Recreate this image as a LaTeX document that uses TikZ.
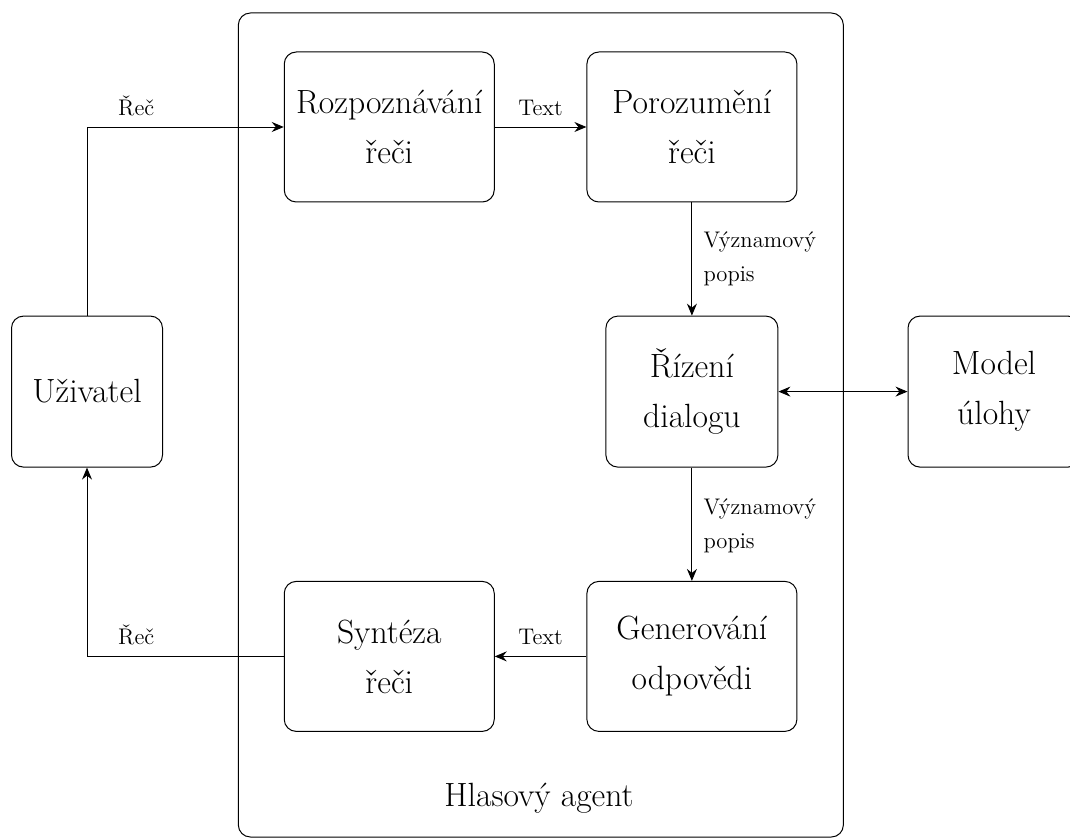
\documentclass[tikz,border=0pt]{standalone}
\usepackage{fontspec}
\usetikzlibrary{arrows.meta}

\begin{document}
\begin{tikzpicture}[x=0.5pt, y=-0.5pt,
  blok/.style={draw, rounded corners=6pt, align=center, inner sep=0pt,
    line width=0.5pt, font=\fontsize{16.8}{25}\selectfont},
  wideblok/.style={blok, minimum width=105pt, minimum height=75pt},
  narrowblok/.style={blok, minimum width=86pt, minimum height=75.5pt},
  userblok/.style={blok, minimum width=75.5pt, minimum height=75.5pt},
  arr/.style={-{Stealth[length=6pt, width=5pt, inset=2pt]}, line width=0.45pt},
  biarr/.style={{Stealth[length=6pt, width=5pt, inset=2pt]}-{Stealth[length=6pt, width=5pt, inset=2pt]}, line width=0.45pt},
  lab/.style={font=\fontsize{11.3}{17}\selectfont, inner sep=0pt},
  hlab/.style={lab, anchor=base, yshift=5.8pt},
  vlab/.style={lab, anchor=west, align=left, xshift=5.6pt},
]
\useasboundingbox (0,0) rectangle (1070,839);

% outer frame of the voice agent
\node[draw, rounded corners=6pt, line width=0.5pt, inner sep=0pt,
      minimum width=302.5pt, minimum height=412pt] (agent) at (540.85,425) {};
\node[anchor=base, inner sep=0pt, font=\fontsize{16.8}{25}\selectfont]
      (agentname) at (539,806.7) {Hlasový agent};

% components
\node[wideblok]   (rozp)   at (389.25,127)   {Rozpoznávání\\řeči};
\node[wideblok]   (poroz)  at (691.9,127)    {Porozumění\\řeči};
\node[narrowblok] (rizeni) at (691.9,391.6)  {Řízení\\dialogu};
\node[wideblok]   (gen)    at (691.9,656.4)  {Generování\\odpovědi};
\node[wideblok]   (synt)   at (389.25,656.4) {Syntéza\\řeči};
\node[userblok]   (uziv)   at (87,391.6)     {Uživatel};
\node[narrowblok] (model)  at (994,391.6)    {Model\\úlohy};

% data flow
\draw[arr] (uziv.north) |- node[hlab, pos=0.625] (l1) {Řeč} (rozp.west);
\draw[arr] (rozp.east) -- node[hlab] (l2) {Text} (poroz.west);
\draw[arr] (poroz.south) -- node[vlab] (l3) {Významový\\popis} (rizeni.north);
\draw[biarr] (rizeni.east) -- (model.west);
\draw[arr] (rizeni.south) -- node[vlab, yshift=-0.7pt] (l4) {Významový\\popis} (gen.north);
\draw[arr] (gen.west) -- node[hlab] (l5) {Text} (synt.east);
\draw[arr] (synt.west) -| node[hlab, pos=0.375] (l6) {Řeč} (uziv.south);
\end{tikzpicture}
\end{document}
